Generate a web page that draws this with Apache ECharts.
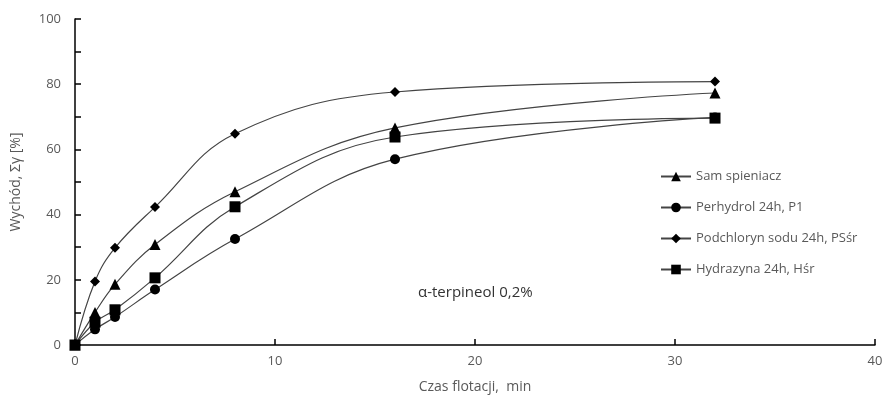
<!DOCTYPE html>
<html lang="pl">
<head>
<meta charset="UTF-8">
<title>Wychód</title>
<script src="https://cdn.jsdelivr.net/npm/echarts@6/dist/echarts.min.js"></script>
<style>
  html, body { margin: 0; padding: 0; background: #fff; }
  #chart { width: 890px; height: 407px; }
</style>
</head>
<body>
<div id="chart"></div>
<script type="text/javascript">
    // czas flotacji, min
    var czas = [0, 1, 2, 4, 8, 16, 32];
    var samSpieniacz = [0, 10, 18.6, 30.8, 47, 66.6, 77.3];
    var perhydrol = [0, 4.8, 8.6, 17, 32.5, 57, 69.8];
    var podchloryn = [0, 19.5, 29.8, 42.3, 64.8, 77.6, 80.8];
    var hydrazyna = [0, 7, 10.8, 20.6, 42.4, 63.8, 69.6];
    var nazwy = ['Sam spieniacz', 'Perhydrol 24h, P1', 'Podchloryn sodu 24h, PSśr', 'Hydrazyna 24h, Hśr'];

    function pary(y) {
        var out = [];
        for (var i = 0; i < czas.length; i++) out.push([czas[i], y[i]]);
        return out;
    }

    var font = '"Open Sans", "DejaVu Sans", sans-serif';
    var szary = '#595959';

    function seria(name, y, symbol, size) {
        return {
            name: name,
            type: 'line',
            smooth: 0.4,
            data: pary(y),
            symbol: symbol,
            symbolSize: size,
            itemStyle: { color: '#000' },
            lineStyle: { color: '#444', width: 1.2 }
        };
    }

    var myChart = echarts.init(document.getElementById('chart'));
    var option = {
        animation: false,
        textStyle: { fontFamily: font },
        grid: { left: 75, right: 15, top: 19, bottom: 62 },
        legend: {
            orient: 'vertical',
            left: 655,
            top: 165,
            itemWidth: 30,
            itemHeight: 12,
            itemGap: 18,
            textStyle: { color: szary, fontSize: 13, fontFamily: font },
            data: nazwy
        },
        graphic: [{
            type: 'text',
            left: 418,
            top: 285,
            style: { text: 'α-terpineol 0,2%', fill: '#333', fontSize: 15, fontFamily: font }
        }],
        xAxis: {
            type: 'value',
            min: 0, max: 40, interval: 10,
            name: 'Czas flotacji,  min',
            nameLocation: 'middle',
            nameGap: 35,
            nameTextStyle: { color: szary, fontSize: 14 },
            axisLine: { lineStyle: { color: '#000', width: 1.5 } },
            axisTick: { inside: true, length: 6, lineStyle: { color: '#000', width: 1.5 } },
            axisLabel: { color: szary, fontSize: 13, margin: 10 },
            splitLine: { show: false }
        },
        yAxis: {
            type: 'value',
            min: 0, max: 100, interval: 10,
            name: 'Wychód, Σγ [%]',
            nameLocation: 'middle',
            nameGap: 52,
            nameTextStyle: { color: szary, fontSize: 14 },
            axisLine: { show: true, lineStyle: { color: '#000', width: 1.5 } },
            axisTick: { show: true, inside: true, length: 6, lineStyle: { color: '#000', width: 1.5 } },
            axisLabel: {
                color: szary, fontSize: 13, margin: 14,
                formatter: function (v) { return v % 20 === 0 ? v : ''; }
            },
            splitLine: { show: false }
        },
        series: [
            seria(nazwy[0], samSpieniacz, 'triangle', 11),
            seria(nazwy[1], perhydrol, 'circle', 10),
            seria(nazwy[2], podchloryn, 'diamond', 10),
            seria(nazwy[3], hydrazyna, 'rect', 11)
        ]
    };
    myChart.setOption(option);
</script>
</body>
</html>
